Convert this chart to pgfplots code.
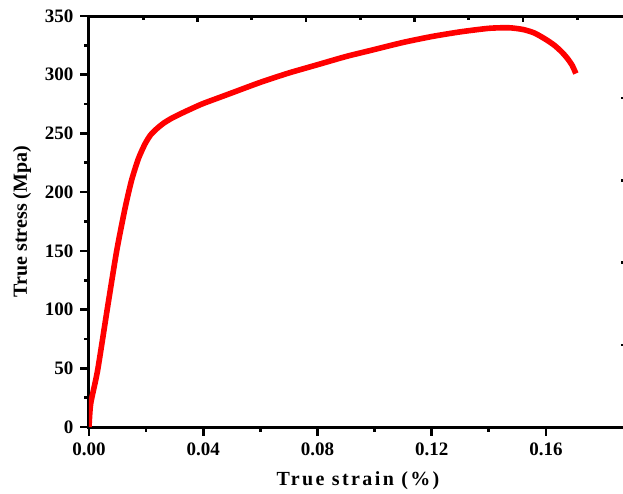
\documentclass[border=0pt]{standalone}
\usepackage{fontspec}
\setmainfont{Liberation Serif}
\usepackage{pgfplots}
\pgfplotsset{compat=1.18}

\pgfplotstableread{
strain stress
0.0000 0
0.0006 20
0.0030 48
0.0065 102
0.0097 150
0.0126 186
0.0149 210
0.0173 228.5
0.0196 241
0.0215 248.5
0.0235 253.5
0.0260 258.5
0.0290 263
0.0336 268.5
0.0395 275
0.0450 280
0.0500 284.5
0.0600 293.5
0.0700 301.5
0.0800 308.5
0.0900 315.5
0.1000 321.5
0.1100 327.5
0.1200 332.5
0.1300 336.5
0.1400 339.5
0.1470 340
0.1520 338.5
0.1560 335.5
0.1600 330
0.1630 325
0.1655 319.5
0.1675 314
0.1692 308
0.1705 301
}\curve

\begin{document}
\begin{tikzpicture}
\pgfplotsset{
  common/.style={
    scale only axis, width=269pt, height=205.5pt,
    xmin=0, xmax=0.1884, ymin=0, ymax=350,
    axis line style={line width=1.5pt},
    every tick/.append style={black, line width=1.3pt},
  },
}
\begin{axis}[common,
    name=main,
    xtick pos=bottom, ytick pos=left, tick align=outside,
    xtick={0,0.04,0.08,0.12,0.16},
    ytick={0,50,...,350},
    minor x tick num=1, minor y tick num=1,
    major tick length=4.3pt, minor tick length=2.3pt,
    ticklabel style={font=\bfseries\fontsize{9.5}{11}\selectfont},
    xticklabel style={/pgf/number format/.cd, fixed, fixed zerofill, precision=2},
    /pgf/number format/assume math mode=true,
    xlabel={\addfontfeature{LetterSpace=12}True strain (\%)},
    ylabel={True stress (Mpa)},
    label style={font=\bfseries\fontsize{10}{12}\selectfont},
    xlabel style={at={(rel axis cs:0.5,0)}, anchor=center, yshift=-27pt},
    ylabel style={at={(rel axis cs:0,0.5)}, anchor=center, yshift=33.5pt},
]
\addplot[red, line width=2.8pt, no marks, smooth, tension=0.4] table[x=strain, y=stress] {\curve};
\coordinate (O) at (rel axis cs:0,0);
\end{axis}
\begin{axis}[common,
    axis line style={draw=none},
    xtick pos=top, ytick pos=right, tick align=inside,
    xticklabels={}, yticklabels={},
    xtick={0,0.038,0.076,0.114,0.152},
    minor xtick={0.019,0.057,0.095,0.133,0.171},
    ytick={70,140,210,280},
    major tick length=3pt, minor tick length=1.8pt,
]
\end{axis}
\pgfresetboundingbox
\path[use as bounding box] ([shift={(-44.5pt,-33.5pt)}]O) rectangle ([shift={(267pt,213.5pt)}]O);
\end{tikzpicture}
\end{document}
